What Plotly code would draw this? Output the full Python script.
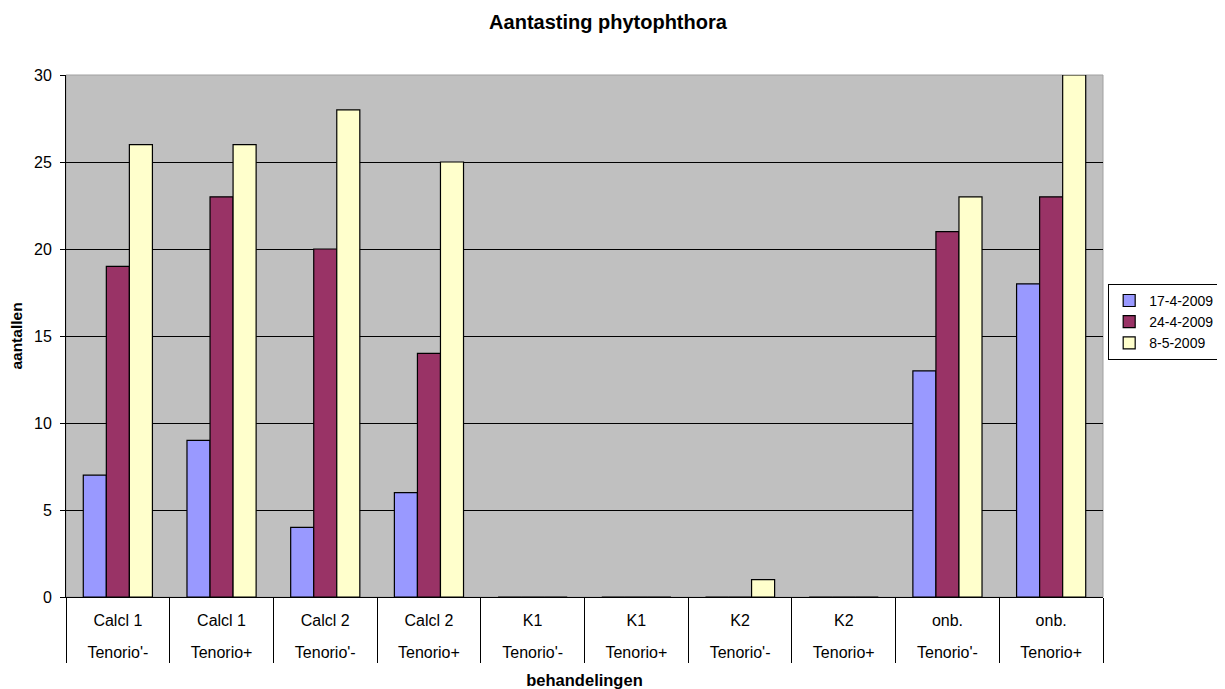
import plotly.graph_objects as go

treatments = ["Calcl 1", "Calcl 1", "Calcl 2", "Calcl 2", "K1", "K1", "K2", "K2", "onb.", "onb."]
variants = ["Tenorio'-", "Tenorio+", "Tenorio'-", "Tenorio+", "Tenorio'-", "Tenorio+", "Tenorio'-", "Tenorio+", "Tenorio'-", "Tenorio+"]
series_names = ["17-4-2009", "24-4-2009", "8-5-2009"]
s1 = [7, 9, 4, 6, 0, 0, 0, 0, 13, 18]
s2 = [19, 23, 20, 14, 0, 0, 0, 0, 21, 23]
s3 = [26, 26, 28, 25, 0, 0, 1, 0, 23, 30]
colors = ["#9999FF", "#993366", "#FFFFCC"]

cats = [f"{t} {v}" for t, v in zip(treatments, variants)]
n = len(cats)
idx = list(range(n))

fig = go.Figure()
for name, vals, c in zip(series_names, [s1, s2, s3], colors):
    fig.add_trace(go.Bar(x=cats, y=vals, name=name,
                         marker=dict(color=c, line=dict(color="black", width=1.2))))
# helper (empty) traces so the overlaying label / divider axes are drawn
for ax in ["x2", "x3"]:
    fig.add_trace(go.Scatter(x=idx, y=[None] * n, xaxis=ax, yaxis="y", mode="markers",
                             showlegend=False, hoverinfo="skip"))

FONT = "Liberation Sans, Arial, sans-serif"
fig.update_layout(
    template="none",
    width=1217, height=681,
    paper_bgcolor="white", plot_bgcolor="#C0C0C0",
    margin=dict(l=58, r=122, t=67, b=92, autoexpand=False),
    barmode="group", bargap=1/3, bargroupgap=0,
    font=dict(family=FONT, size=16, color="black"),
    title=dict(text="<b>Aantasting phytophthora</b>", x=0.493, xref="container",
               y=0.98, yref="container", yanchor="middle", xanchor="center", font=dict(size=20)),
    legend=dict(x=1.005, xanchor="left", y=0.527, yanchor="middle",
                bordercolor="black", borderwidth=1, bgcolor="white",
                font=dict(size=14), tracegroupgap=0, itemwidth=30),
    shapes=[dict(type="rect", xref="paper", yref="paper", x0=0, x1=1, y0=0, y1=1,
                 line=dict(color="#A0A0A0", width=1), layer="below")],
    xaxis=dict(type="category", categoryarray=cats, categoryorder="array", range=[-0.5, n - 0.5],
               tickvals=cats, ticktext=treatments, automargin=False,
               showline=True, linecolor="black", showgrid=False, zeroline=False,
               ticks="outside", ticklen=9, tickcolor="rgba(0,0,0,0)"),
    xaxis2=dict(overlaying="x", anchor="y", side="bottom", type="linear", range=[-0.5, n - 0.5],
                tickvals=idx, ticktext=variants, showgrid=False, zeroline=False, showline=False,
                ticks="outside", ticklen=41, tickcolor="rgba(0,0,0,0)", automargin=False,
                title=dict(text="<b>behandelingen</b>", font=dict(size=16.5), standoff=14)),
    xaxis3=dict(overlaying="x", anchor="y", side="bottom", type="linear", range=[-0.5, n - 0.5],
                tick0=-0.5, dtick=1, showticklabels=False, showgrid=False, zeroline=False,
                showline=False, ticks="outside", ticklen=65, tickcolor="black", tickwidth=1,
                automargin=False),
    yaxis=dict(range=[0, 30], dtick=5, showgrid=True, gridcolor="black", gridwidth=1,
               showline=True, linecolor="black", ticks="outside", ticklen=5, tickcolor="black",
               ticklabelstandoff=5,
               zeroline=False, automargin=False,
               title=dict(text="<b>aantallen</b>", font=dict(size=15.5), standoff=10)),
)
fig.write_html("out.html")
